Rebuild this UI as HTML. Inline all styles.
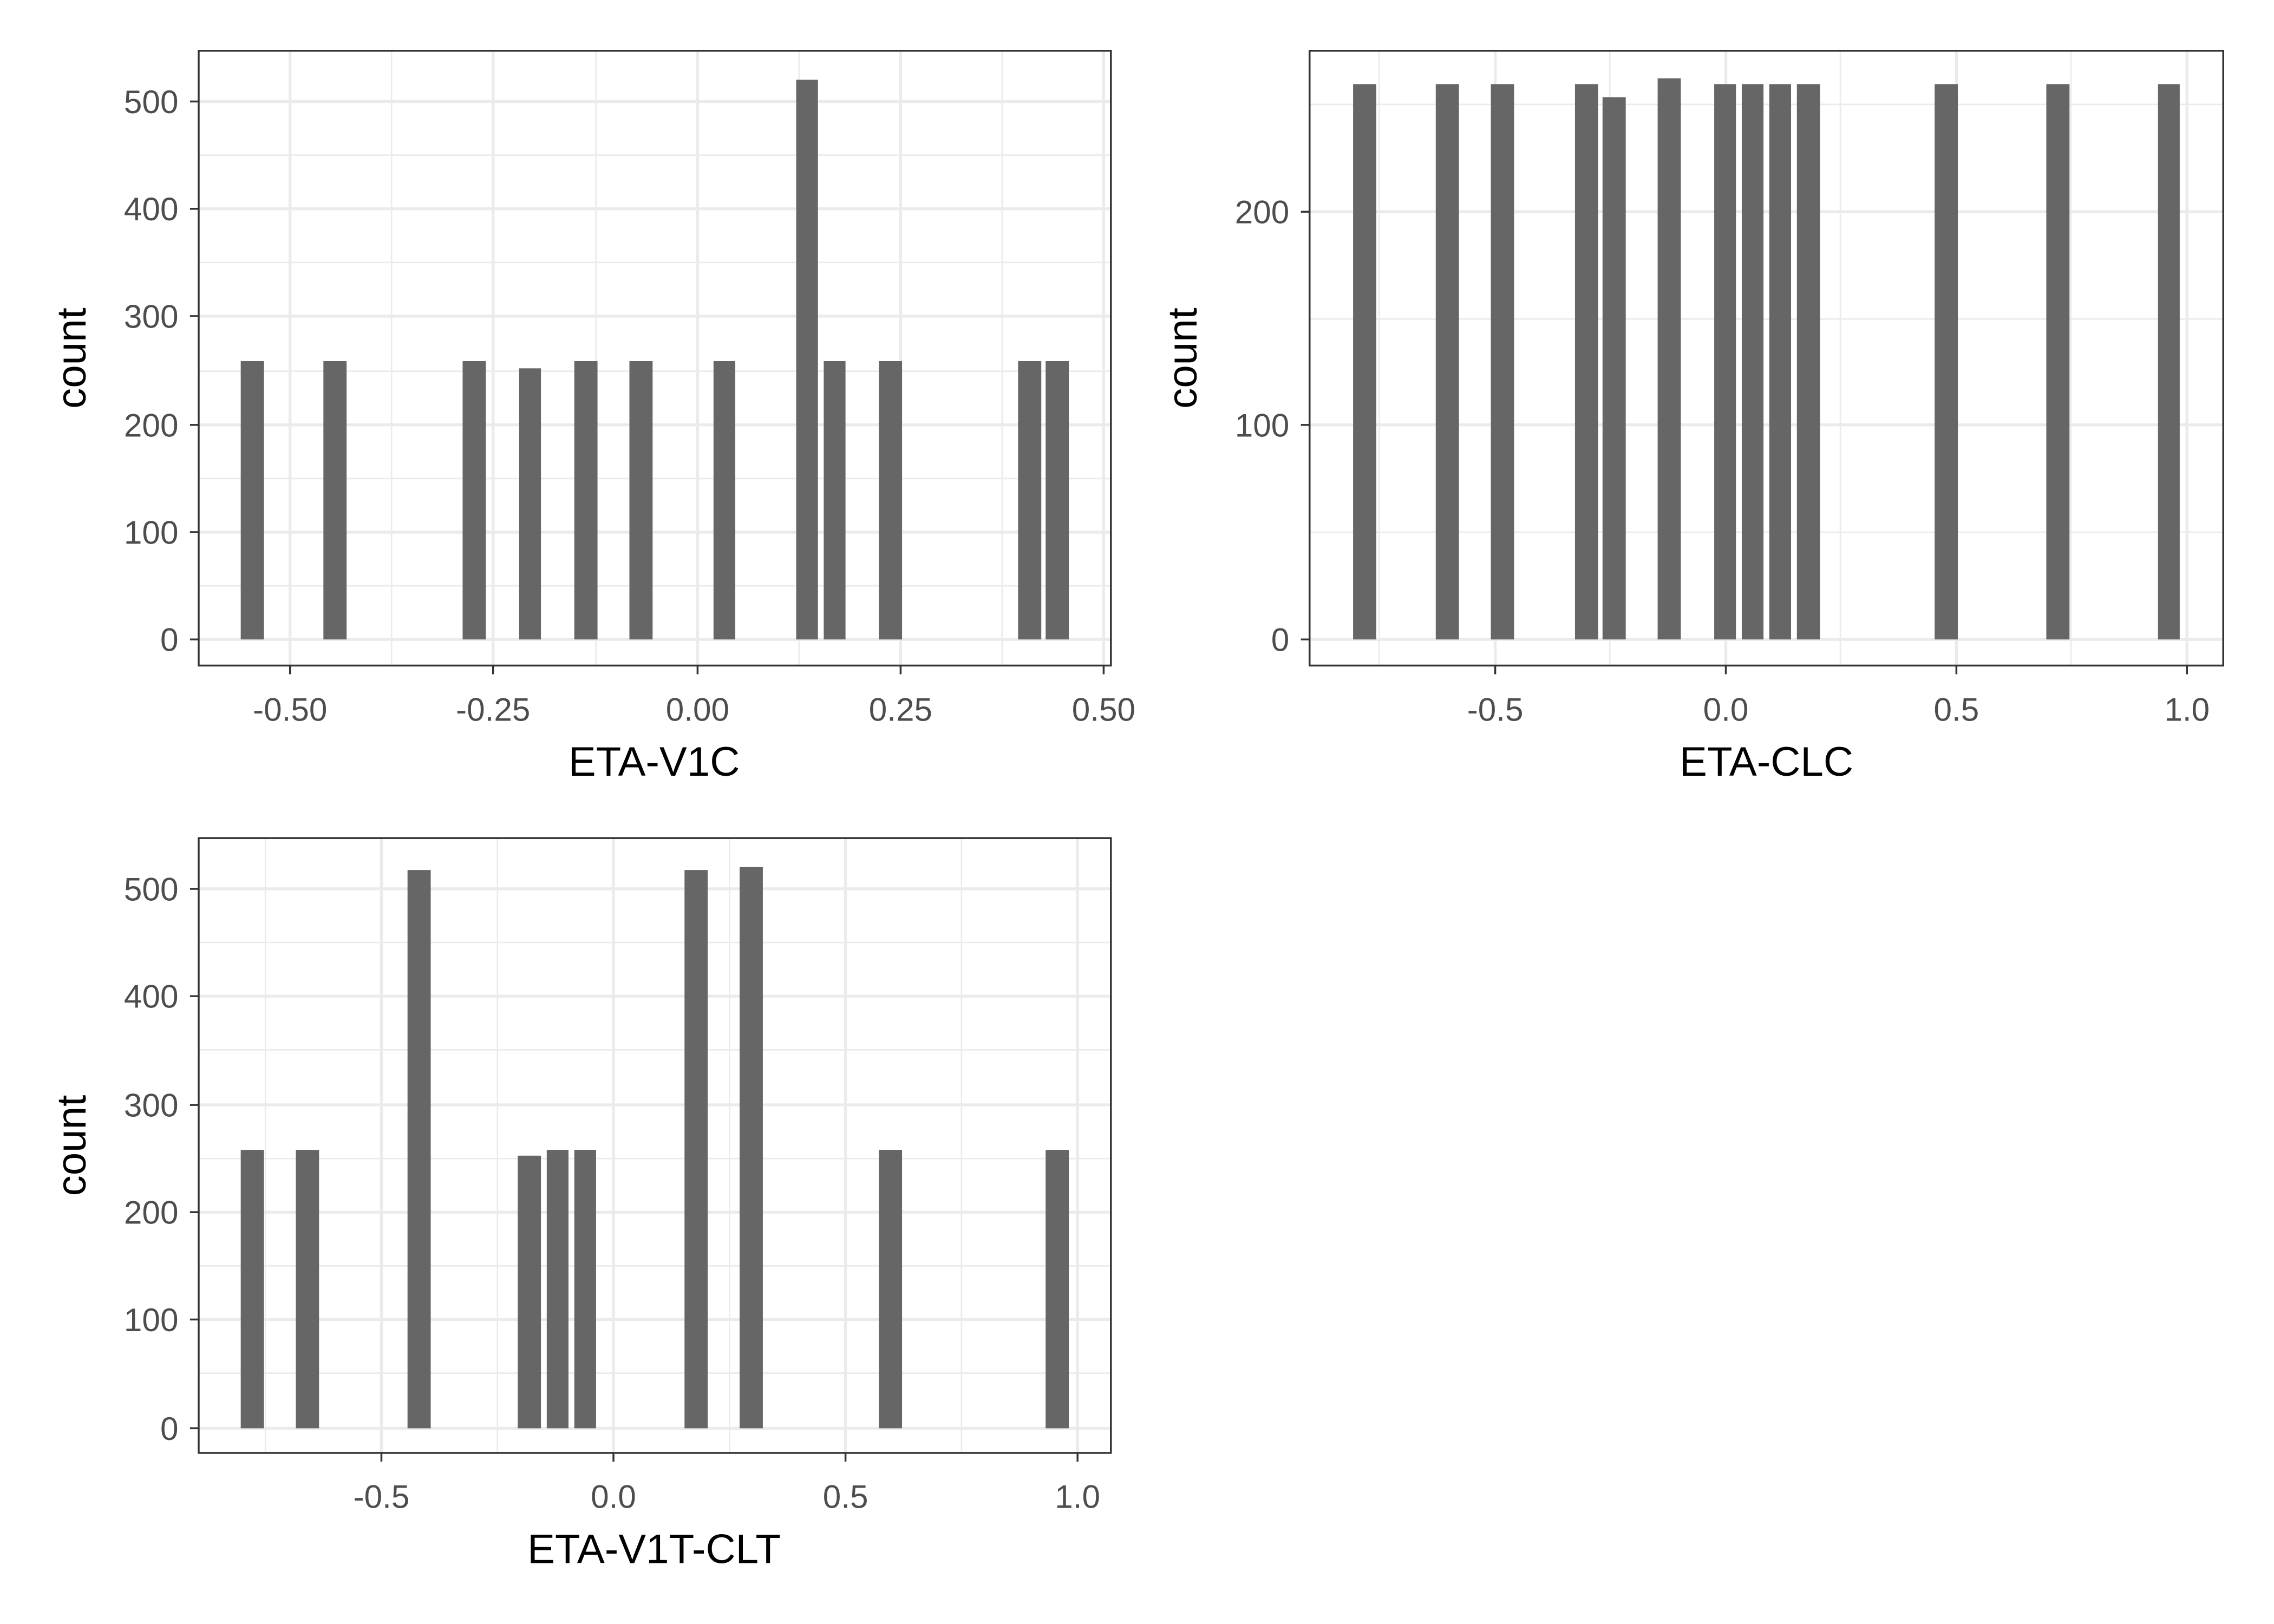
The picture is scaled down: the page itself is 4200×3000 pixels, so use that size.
<!DOCTYPE html>
<html><head><meta charset="utf-8"><style>html,body{margin:0;padding:0;background:#fff}svg{display:block}</style></head>
<body>
<svg xmlns="http://www.w3.org/2000/svg" width="4200" height="3000" viewBox="0 0 1568 1120" preserveAspectRatio="none" font-family="Liberation Sans, Arial, sans-serif">
<rect width="1568" height="1120" fill="#fff"/>
<!-- Panel 1 -->
<g>
<g stroke="#ebebeb" stroke-width="1">
<line x1="137" x2="766" y1="404" y2="404"/><line x1="137" x2="766" y1="330" y2="330"/><line x1="137" x2="766" y1="256" y2="256"/><line x1="137" x2="766" y1="181" y2="181"/><line x1="137" x2="766" y1="107" y2="107"/>
<line y1="35" y2="459" x1="270" x2="270"/><line y1="35" y2="459" x1="411" x2="411"/><line y1="35" y2="459" x1="551" x2="551"/><line y1="35" y2="459" x1="691" x2="691"/>
</g>
<g stroke="#ebebeb" stroke-width="2">
<line x1="137" x2="766" y1="441" y2="441"/><line x1="137" x2="766" y1="367" y2="367"/><line x1="137" x2="766" y1="293" y2="293"/><line x1="137" x2="766" y1="218" y2="218"/><line x1="137" x2="766" y1="144" y2="144"/><line x1="137" x2="766" y1="70" y2="70"/>
<line y1="35" y2="459" x1="200" x2="200"/><line y1="35" y2="459" x1="340" x2="340"/><line y1="35" y2="459" x1="481" x2="481"/><line y1="35" y2="459" x1="621" x2="621"/><line y1="35" y2="459" x1="761" x2="761"/>
</g>
<g fill="#666666">
<rect x="166" y="249" width="16" height="192"/><rect x="223" y="249" width="16" height="192"/><rect x="319" y="249" width="16" height="192"/><rect x="358" y="254" width="15" height="187"/><rect x="396" y="249" width="16" height="192"/><rect x="434" y="249" width="16" height="192"/><rect x="492" y="249" width="15" height="192"/><rect x="549" y="55" width="15" height="386"/><rect x="568" y="249" width="15" height="192"/><rect x="606" y="249" width="16" height="192"/><rect x="702" y="249" width="16" height="192"/><rect x="721" y="249" width="16" height="192"/>
</g>
<rect x="137" y="35" width="629" height="424" fill="none" stroke="#333" stroke-width="1.3"/>
<g stroke="#333" stroke-width="1.3">
<line x1="131" x2="137" y1="441" y2="441"/><line x1="131" x2="137" y1="367" y2="367"/><line x1="131" x2="137" y1="293" y2="293"/><line x1="131" x2="137" y1="218" y2="218"/><line x1="131" x2="137" y1="144" y2="144"/><line x1="131" x2="137" y1="70" y2="70"/>
<line y1="459" y2="465" x1="200" x2="200"/><line y1="459" y2="465" x1="340" x2="340"/><line y1="459" y2="465" x1="481" x2="481"/><line y1="459" y2="465" x1="621" x2="621"/><line y1="459" y2="465" x1="761" x2="761"/>
</g>
<g fill="#4d4d4d" font-size="22.5" text-anchor="end">
<text x="123" y="449">0</text><text x="123" y="375">100</text><text x="123" y="301">200</text><text x="123" y="226">300</text><text x="123" y="152">400</text><text x="123" y="78">500</text>
</g>
<g fill="#4d4d4d" font-size="22.5" text-anchor="middle">
<text x="200" y="497">-0.50</text><text x="340" y="497">-0.25</text><text x="481" y="497">0.00</text><text x="621" y="497">0.25</text><text x="761" y="497">0.50</text>
</g>
<text x="451" y="535" font-size="28.5" text-anchor="middle">ETA-V1C</text>
<text transform="translate(59,247) rotate(-90)" font-size="28.5" text-anchor="middle">count</text>
</g>
<!-- Panel 2 -->
<g>
<g stroke="#ebebeb" stroke-width="1">
<line x1="903" x2="1533" y1="367" y2="367"/><line x1="903" x2="1533" y1="220" y2="220"/><line x1="903" x2="1533" y1="72" y2="72"/>
<line y1="35" y2="459" x1="951" x2="951"/><line y1="35" y2="459" x1="1110" x2="1110"/><line y1="35" y2="459" x1="1269" x2="1269"/><line y1="35" y2="459" x1="1428" x2="1428"/>
</g>
<g stroke="#ebebeb" stroke-width="2">
<line x1="903" x2="1533" y1="441" y2="441"/><line x1="903" x2="1533" y1="293" y2="293"/><line x1="903" x2="1533" y1="146" y2="146"/>
<line y1="35" y2="459" x1="1031" x2="1031"/><line y1="35" y2="459" x1="1190" x2="1190"/><line y1="35" y2="459" x1="1349" x2="1349"/><line y1="35" y2="459" x1="1508" x2="1508"/>
</g>
<g fill="#666666">
<rect x="933" y="58" width="16" height="383"/><rect x="990" y="58" width="16" height="383"/><rect x="1028" y="58" width="16" height="383"/><rect x="1086" y="58" width="16" height="383"/><rect x="1105" y="67" width="16" height="374"/><rect x="1143" y="54" width="16" height="387"/><rect x="1182" y="58" width="15" height="383"/><rect x="1201" y="58" width="15" height="383"/><rect x="1220" y="58" width="15" height="383"/><rect x="1239" y="58" width="16" height="383"/><rect x="1334" y="58" width="16" height="383"/><rect x="1411" y="58" width="16" height="383"/><rect x="1488" y="58" width="15" height="383"/>
</g>
<rect x="903" y="35" width="630" height="424" fill="none" stroke="#333" stroke-width="1.3"/>
<g stroke="#333" stroke-width="1.3">
<line x1="897" x2="903" y1="441" y2="441"/><line x1="897" x2="903" y1="293" y2="293"/><line x1="897" x2="903" y1="146" y2="146"/>
<line y1="459" y2="465" x1="1031" x2="1031"/><line y1="459" y2="465" x1="1190" x2="1190"/><line y1="459" y2="465" x1="1349" x2="1349"/><line y1="459" y2="465" x1="1508" x2="1508"/>
</g>
<g fill="#4d4d4d" font-size="22.5" text-anchor="end">
<text x="889" y="449">0</text><text x="889" y="301">100</text><text x="889" y="154">200</text>
</g>
<g fill="#4d4d4d" font-size="22.5" text-anchor="middle">
<text x="1031" y="497">-0.5</text><text x="1190" y="497">0.0</text><text x="1349" y="497">0.5</text><text x="1508" y="497">1.0</text>
</g>
<text x="1218" y="535" font-size="28.5" text-anchor="middle">ETA-CLC</text>
<text transform="translate(825,247) rotate(-90)" font-size="28.5" text-anchor="middle">count</text>
</g>
<!-- Panel 3 -->
<g>
<g stroke="#ebebeb" stroke-width="1">
<line x1="137" x2="766" y1="947" y2="947"/><line x1="137" x2="766" y1="873" y2="873"/><line x1="137" x2="766" y1="799" y2="799"/><line x1="137" x2="766" y1="724" y2="724"/><line x1="137" x2="766" y1="650" y2="650"/>
<line y1="578" y2="1002" x1="183" x2="183"/><line y1="578" y2="1002" x1="343" x2="343"/><line y1="578" y2="1002" x1="503" x2="503"/><line y1="578" y2="1002" x1="663" x2="663"/>
</g>
<g stroke="#ebebeb" stroke-width="2">
<line x1="137" x2="766" y1="985" y2="985"/><line x1="137" x2="766" y1="910" y2="910"/><line x1="137" x2="766" y1="836" y2="836"/><line x1="137" x2="766" y1="762" y2="762"/><line x1="137" x2="766" y1="687" y2="687"/><line x1="137" x2="766" y1="613" y2="613"/>
<line y1="578" y2="1002" x1="263" x2="263"/><line y1="578" y2="1002" x1="423" x2="423"/><line y1="578" y2="1002" x1="583" x2="583"/><line y1="578" y2="1002" x1="743" x2="743"/>
</g>
<g fill="#666666">
<rect x="166" y="793" width="16" height="192"/><rect x="204" y="793" width="16" height="192"/><rect x="281" y="600" width="16" height="385"/><rect x="357" y="797" width="16" height="188"/><rect x="377" y="793" width="15" height="192"/><rect x="396" y="793" width="15" height="192"/><rect x="472" y="600" width="16" height="385"/><rect x="510" y="598" width="16" height="387"/><rect x="606" y="793" width="16" height="192"/><rect x="721" y="793" width="16" height="192"/>
</g>
<rect x="137" y="578" width="629" height="424" fill="none" stroke="#333" stroke-width="1.3"/>
<g stroke="#333" stroke-width="1.3">
<line x1="131" x2="137" y1="985" y2="985"/><line x1="131" x2="137" y1="910" y2="910"/><line x1="131" x2="137" y1="836" y2="836"/><line x1="131" x2="137" y1="762" y2="762"/><line x1="131" x2="137" y1="687" y2="687"/><line x1="131" x2="137" y1="613" y2="613"/>
<line y1="1002" y2="1008" x1="263" x2="263"/><line y1="1002" y2="1008" x1="423" x2="423"/><line y1="1002" y2="1008" x1="583" x2="583"/><line y1="1002" y2="1008" x1="743" x2="743"/>
</g>
<g fill="#4d4d4d" font-size="22.5" text-anchor="end">
<text x="123" y="993">0</text><text x="123" y="918">100</text><text x="123" y="844">200</text><text x="123" y="770">300</text><text x="123" y="695">400</text><text x="123" y="621">500</text>
</g>
<g fill="#4d4d4d" font-size="22.5" text-anchor="middle">
<text x="263" y="1040">-0.5</text><text x="423" y="1040">0.0</text><text x="583" y="1040">0.5</text><text x="743" y="1040">1.0</text>
</g>
<text x="451" y="1078" font-size="28.5" text-anchor="middle">ETA-V1T-CLT</text>
<text transform="translate(59,790) rotate(-90)" font-size="28.5" text-anchor="middle">count</text>
</g>
</svg>
</body></html>
